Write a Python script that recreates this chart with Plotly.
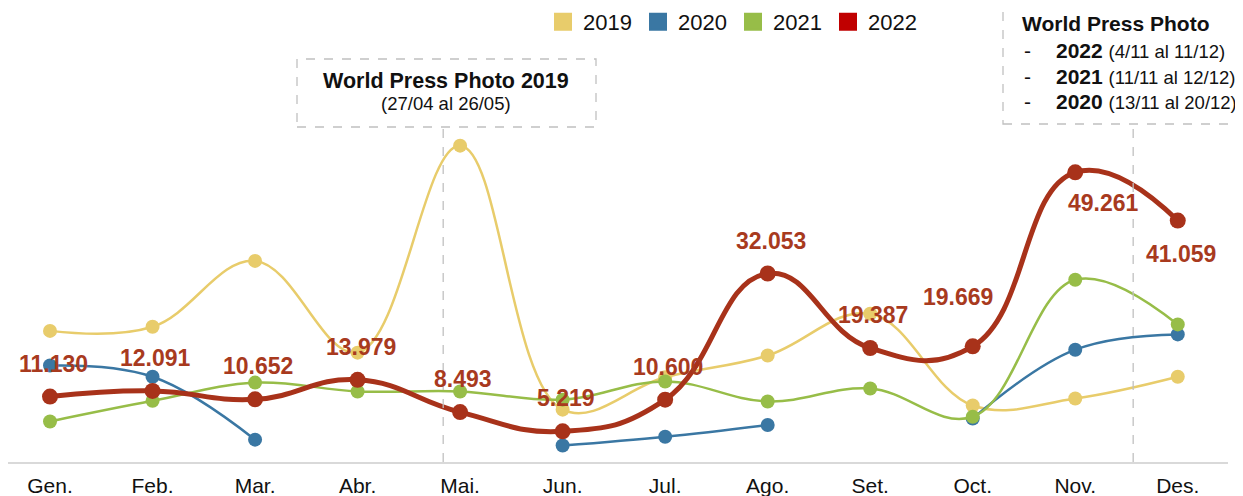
import plotly.graph_objects as go

months = ["Gen.", "Feb.", "Mar.", "Abr.", "Mai.", "Jun.", "Jul.", "Ago.", "Set.", "Oct.", "Nov.", "Des."]
v2019 = [22300, 23000, 34200, 18600, 53800, 8900, 14400, 18100, 25200, 9600, 10800, 14500]
v2020 = [16400, 14500, 3800, None, None, 2800, 4300, 6300, None, 7400, 19100, 21700]
v2021 = [6900, 10400, 13500, 12000, 12000, 10600, 13700, 10300, 12500, 7700, 31000, 23400]
v2022 = [11130, 12091, 10652, 13979, 8493, 5219, 10600, 32053, 19387, 19669, 49261, 41059]
series_names = ["2019", "2020", "2021", "2022"]

C19, C20, C21, C22 = "#e8cc6b", "#3a77a3", "#97bd48", "#a8321a"
LEG22 = "#c00000"
LABEL_C = "#a83a1e"
FONT = "Liberation Sans, Arial, sans-serif"

# figure geometry (the page adds an 8px body margin)
OFF = 8
W, H = 1243 - OFF, 496 - OFF
L, R, T, B = 0, 15, 0, 34
PW, PH = W - L - R, H - T - B
YMAX = 77211
x_idx = list(range(len(months)))

def px(sx):
    return (sx - OFF - L) / PW

def py(sy):
    return (H - B - (sy - OFF)) / PH

fig = go.Figure()
for name, vals, col in [("2019", v2019, C19), ("2020", v2020, C20), ("2021", v2021, C21)]:
    fig.add_trace(go.Scatter(
        x=x_idx, y=vals, mode="lines+markers", name=name, showlegend=False,
        line=dict(color=col, width=2.5, shape="spline", smoothing=1.1),
        marker=dict(color=col, size=14), connectgaps=False, cliponaxis=False))
fig.add_trace(go.Scatter(
    x=x_idx, y=v2022, mode="lines+markers", name="2022", showlegend=False,
    line=dict(color=C22, width=5, shape="spline", smoothing=1.3),
    marker=dict(color=C22, size=16), cliponaxis=False))

# legend entries (square swatches)
for name, col in zip(series_names, [C19, C20, C21, LEG22]):
    fig.add_trace(go.Scatter(
        x=[None], y=[None], mode="markers", name=name,
        marker=dict(symbol="square", size=16, color=col, line=dict(color=col, width=2))))

# data labels for 2022
shifts = {9: (-15, 49), 10: (28, -31), 11: (3, -33)}
for i, v in enumerate(v2022):
    xs, ys = shifts.get(i, (3, 33))
    fig.add_annotation(x=i, y=v, text="<b>" + f"{v:,}".replace(",", ".") + "</b>",
                       showarrow=False, xshift=xs, yshift=ys,
                       font=dict(family=FONT, size=23, color=LABEL_C))

# dashed reference lines
for xl, ytop in [(3.835, 127), (10.565, 124)]:
    fig.add_shape(type="line", xref="x", yref="paper", x0=xl, x1=xl, y0=0, y1=py(ytop),
                  line=dict(color="#c0c0c0", width=1.3, dash="dash"))

# annotation boxes
fig.add_shape(type="rect", xref="paper", yref="paper", x0=px(297), x1=px(596), y0=py(127), y1=py(59),
              line=dict(color="#c0c0c0", width=1.3, dash="dash"), fillcolor="white", layer="above")
fig.add_shape(type="rect", xref="paper", yref="paper", x0=px(1003), x1=px(1270), y0=py(124), y1=py(2),
              line=dict(color="#c0c0c0", width=1.3, dash="dash"), fillcolor="white", layer="above")

fig.add_annotation(xref="paper", yref="paper", x=px(446), y=py(81), xanchor="center", yanchor="middle",
                   text="<b>World Press Photo 2019</b>",
                   showarrow=False, font=dict(family=FONT, size=21.5, color="#111"))
fig.add_annotation(xref="paper", yref="paper", x=px(446), y=py(104), xanchor="center", yanchor="middle",
                   text="(27/04 al 26/05)",
                   showarrow=False, font=dict(family=FONT, size=18.5, color="#111"))
fig.add_annotation(xref="paper", yref="paper", x=px(1020), y=py(23), xanchor="left", yanchor="middle",
                   text="<b>World Press Photo</b>", showarrow=False,
                   font=dict(family=FONT, size=21, color="#111"))
rows = [("2022", "(4/11 al 11/12)", 50), ("2021", "(11/11 al 12/12)", 76), ("2020", "(13/11 al 20/12)", 101)]
for yr, rng, yy in rows:
    fig.add_annotation(xref="paper", yref="paper", x=px(1022), y=py(yy), xanchor="left", yanchor="middle",
                       text="-", showarrow=False, font=dict(family=FONT, size=21, color="#111"))
    fig.add_annotation(xref="paper", yref="paper", x=px(1054), y=py(yy), xanchor="left", yanchor="middle",
                       text=f"<b>{yr}</b> <span style='font-size:18.5px'>{rng}</span>", showarrow=False,
                       font=dict(family=FONT, size=21, color="#111"))

fig.update_layout(
    width=W, height=H, margin=dict(l=L, r=R, t=T, b=B, autoexpand=False),
    plot_bgcolor="white", paper_bgcolor="white",
    font=dict(family=FONT, color="#111"),
    legend=dict(orientation="h", x=px(543), xanchor="left", y=py(22), yanchor="middle",
                entrywidth=50, entrywidthmode="pixels",
                font=dict(size=22, family=FONT, color="#111"), itemsizing="trace",
                bgcolor="rgba(0,0,0,0)"),
    xaxis=dict(range=[-0.4098, 11.49], tickmode="array", tickvals=x_idx, ticktext=months,
               showgrid=False, zeroline=False, showline=True, linecolor="#d9d9d9", linewidth=2,
               ticks="", ticklabelstandoff=4, automargin=False,
               tickfont=dict(size=21, family=FONT, color="#111")),
    yaxis=dict(range=[0, YMAX], visible=False, showgrid=False, zeroline=False, automargin=False),
)

fig.write_html("out.html")
